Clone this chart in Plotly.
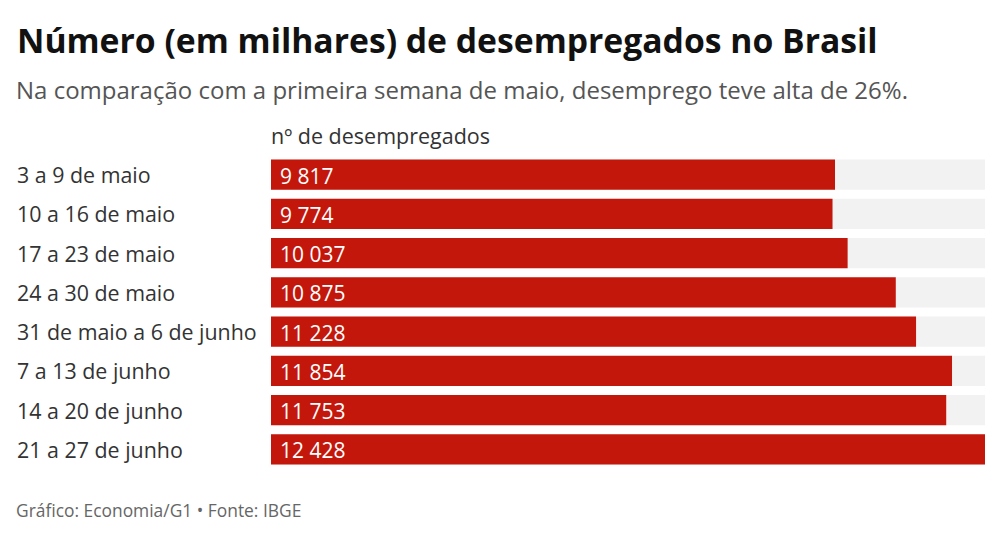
import plotly.graph_objects as go

categories = ["3 a 9 de maio", "10 a 16 de maio", "17 a 23 de maio", "24 a 30 de maio",
              "31 de maio a 6 de junho", "7 a 13 de junho", "14 a 20 de junho", "21 a 27 de junho"]
values = [9817, 9774, 10037, 10875, 11228, 11854, 11753, 12428]

title = "Número (em milhares) de desempregados no Brasil"
subtitle = "Na comparação com a primeira semana de maio, desemprego teve alta de 26%."
axis_label = "nº de desempregados"
footer = "Gráfico: Economia/G1 • Fonte: IBGE"

vmax = max(values)
W, H = 1008, 538
L, R, T, B = 271, 23, 155, 69
pw = W - L - R
ph = H - T - B
FONT = "Open Sans"

fig = go.Figure()
fig.add_trace(go.Bar(x=[vmax] * len(values), y=categories, orientation="h",
                     marker=dict(color="#f2f2f2", line=dict(width=0)),
                     hoverinfo="skip", width=0.77))
fig.add_trace(go.Bar(x=values, y=categories, orientation="h",
                     marker=dict(color="#c4170c", line=dict(width=0)), width=0.77))

ann = []
for c, v in zip(categories, values):
    ann.append(dict(x=0, y=c, xref="x", yref="y", text=f"{v:,}".replace(",", " "),
                    xanchor="left", xshift=7, yshift=-1, showarrow=False,
                    font=dict(family=FONT, size=21, color="white")))
    ann.append(dict(x=(15 - L) / pw, y=c, xref="paper", yref="y", text=c,
                    xanchor="left", showarrow=False,
                    font=dict(family=FONT, size=21.4, color="#333333")))

def py(pix):
    return 1 - (pix - T) / ph

ann.append(dict(x=(15 - L) / pw, y=py(40), xref="paper", yref="paper", text="<b>" + title + "</b>",
                xanchor="left", yanchor="middle", showarrow=False,
                font=dict(family=FONT, size=33.7, color="#111111")))
ann.append(dict(x=(14 - L) / pw, y=py(90), xref="paper", yref="paper", text=subtitle,
                xanchor="left", yanchor="middle", showarrow=False,
                font=dict(family=FONT, size=24, color="#555555")))
ann.append(dict(x=(269 - L) / pw, y=py(136), xref="paper", yref="paper", text=axis_label,
                xanchor="left", yanchor="middle", showarrow=False,
                font=dict(family=FONT, size=21.5, color="#333333")))
ann.append(dict(x=(14 - L) / pw, y=py(510), xref="paper", yref="paper", text=footer,
                xanchor="left", yanchor="middle", showarrow=False,
                font=dict(family=FONT, size=17.4, color="#666666")))

fig.update_layout(
    width=W, height=H, margin=dict(l=L, r=R, t=T, b=B),
    barmode="overlay", showlegend=False,
    paper_bgcolor="white", plot_bgcolor="white",
    xaxis=dict(range=[0, vmax], visible=False, fixedrange=True),
    yaxis=dict(categoryorder="array", categoryarray=categories, autorange="reversed",
               showticklabels=False, showgrid=False, zeroline=False, fixedrange=True),
    annotations=ann,
    font=dict(family=FONT),
)
fig.write_html("out.html", config={"displayModeBar": False})
